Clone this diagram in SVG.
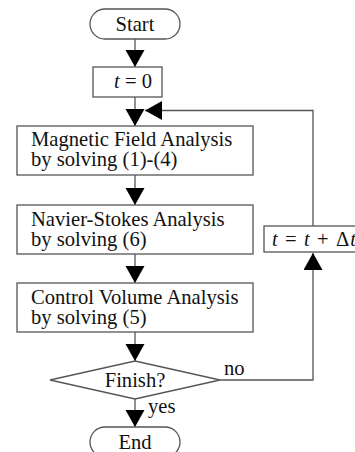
<svg xmlns="http://www.w3.org/2000/svg" width="355" height="452" viewBox="0 0 355 452" font-family="'Liberation Serif', 'Times New Roman', Tinos, 'DejaVu Serif', serif">
<style>
.shape{fill:#fff;stroke:#555;stroke-width:1.3}
.conn{fill:none;stroke:#555;stroke-width:1.3}
text{font-family:'Liberation Serif', 'Times New Roman', Tinos, 'DejaVu Serif', serif;font-size:20.6px;fill:#111}
.c{text-anchor:middle}
.m{font-style:italic}
</style>
<defs>
<marker id="ah" markerUnits="userSpaceOnUse" markerWidth="19" markerHeight="20" refX="17" refY="9.5" orient="auto">
<path d="M0,0 L17,9.5 L0,19 z" fill="#000"/>
</marker>
</defs>
<rect width="355" height="452" fill="#fff"/>
<g id="connectors">
<line class="conn" x1="135" y1="39" x2="135" y2="67" marker-end="url(#ah)"/>
<line class="conn" x1="135" y1="97" x2="135" y2="126" marker-end="url(#ah)"/>
<line class="conn" x1="135" y1="175" x2="135" y2="205" marker-end="url(#ah)"/>
<line class="conn" x1="135" y1="254" x2="135" y2="283" marker-end="url(#ah)"/>
<line class="conn" x1="135" y1="332" x2="135" y2="361" marker-end="url(#ah)"/>
<line class="conn" x1="135" y1="399" x2="135" y2="427" marker-end="url(#ah)"/>
<polyline class="conn" points="220,380 313,380 313,253" marker-end="url(#ah)"/>
<polyline class="conn" points="313,226 313,110.5 145,110.5" marker-end="url(#ah)"/>
</g>
<g id="start">
<rect class="shape" x="90" y="9" width="90" height="30" rx="15"/>
<text class="c" x="135" y="31">Start</text>
</g>
<g id="init">
<rect class="shape" x="93" y="67" width="69" height="30"/>
<text class="c" x="133" y="88"><tspan class="m">t</tspan> = 0</text>
</g>
<g id="magnetic">
<rect class="shape" x="17" y="126" width="236" height="49"/>
<text x="31" y="146">Magnetic Field Analysis</text>
<text x="31" y="166">by solving (1)-(4)</text>
</g>
<g id="navier">
<rect class="shape" x="17" y="205" width="236" height="49"/>
<text x="31" y="226">Navier-Stokes Analysis</text>
<text x="31" y="246">by solving (6)</text>
</g>
<g id="control">
<rect class="shape" x="17" y="283" width="236" height="49"/>
<text x="31" y="304">Control Volume Analysis</text>
<text x="31" y="324">by solving (5)</text>
</g>
<g id="finish">
<polygon class="shape" points="135,361 220,380 135,399 50,380"/>
<text class="c" x="135" y="387">Finish?</text>
</g>
<g id="step">
<rect class="shape" x="264" y="226" width="100" height="26"/>
<text x="272" y="246" font-size="21.5" textLength="84" lengthAdjust="spacing"><tspan class="m">t</tspan> = <tspan class="m">t</tspan> + Δ<tspan class="m">t</tspan></text>
</g>
<g id="end">
<rect class="shape" x="90" y="427" width="90" height="30" rx="15"/>
<text class="c" x="135" y="449">End</text>
</g>
<g id="labels">
<text x="224" y="375">no</text>
<text x="148" y="413">yes</text>
</g>
</svg>
